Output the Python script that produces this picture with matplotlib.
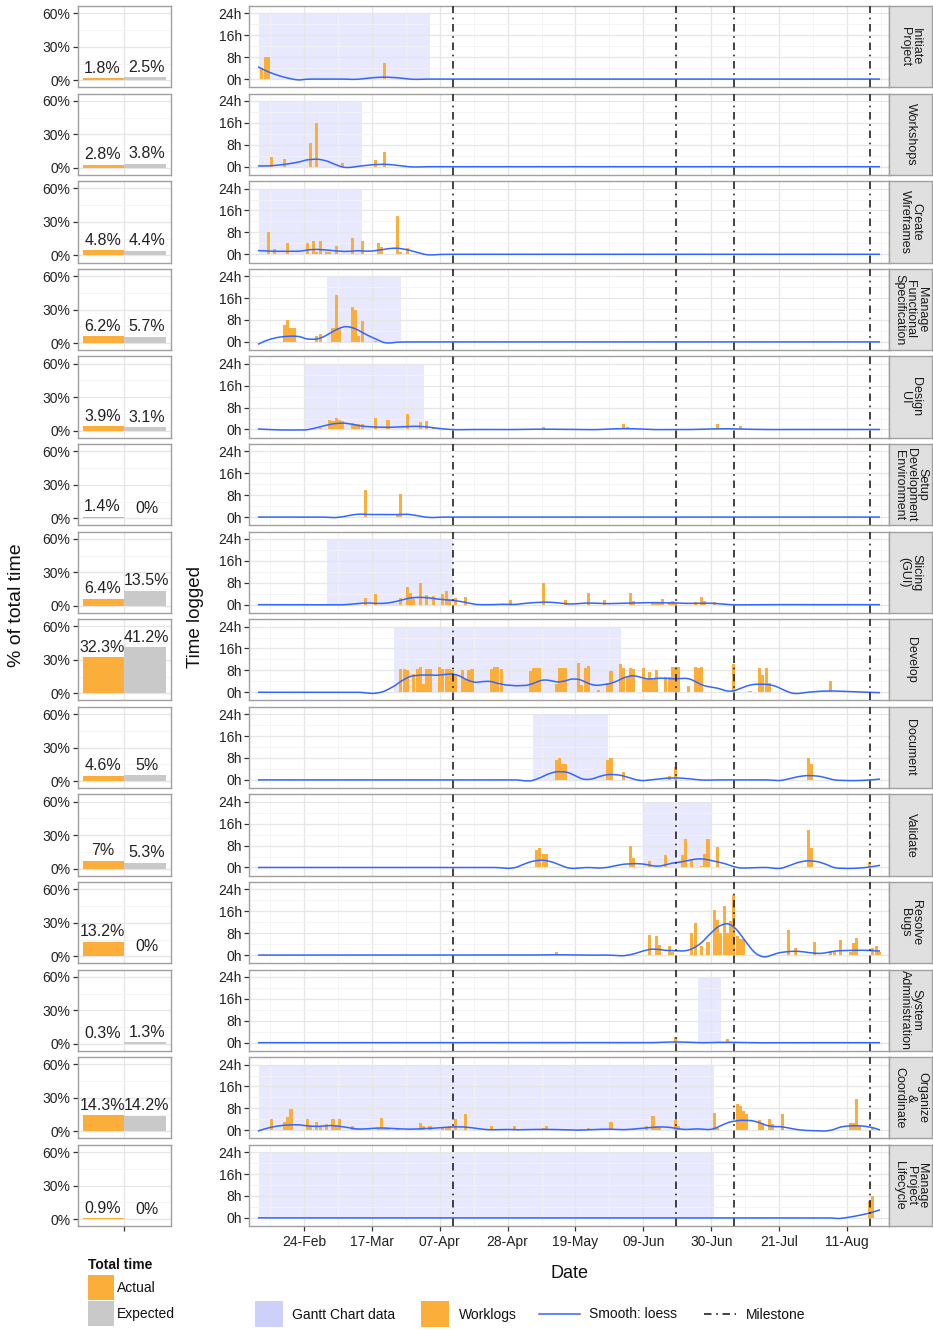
import numpy as np
import matplotlib
matplotlib.use("Agg")
import matplotlib.pyplot as plt
import matplotlib.dates as mdates
from matplotlib.patches import Rectangle
from matplotlib.lines import Line2D
from matplotlib.ticker import FixedLocator

plt.rcParams['font.family'] = ['Liberation Sans', 'DejaVu Sans']

# ---------------- data ----------------
START = np.datetime64('2014-02-10')
END_DAY = 192  # last day of the logged period (offset from START)

TASKS = ["Initiate\nProject", "Workshops", "Create\nWireframes",
         "Manage\nFunctional\nSpecification", "Design\nUI",
         "Setup\nDevelopment\nEnvironment", "Slicing\n(GUI)", "Develop",
         "Document", "Validate", "Resolve\nBugs", "System\nAdministration",
         "Organize\n&\nCoordinate", "Manage\nProject\nLifecycle"]

ACTUAL_PCT = [1.8, 2.8, 4.8, 6.2, 3.9, 1.4, 6.4, 32.3, 4.6, 7, 13.2, 0.3, 14.3, 0.9]
EXPECTED_PCT = [2.5, 3.8, 4.4, 5.7, 3.1, 0, 13.5, 41.2, 5, 5.3, 0, 1.3, 14.2, 0]

GANTT_START = ['2014-02-10', '2014-02-10', '2014-02-10', '2014-03-03', '2014-02-24', None,
               '2014-03-03', '2014-03-24', '2014-05-06', '2014-06-09', None, '2014-06-26',
               '2014-02-10', '2014-02-10']
GANTT_END = ['2014-04-04', '2014-03-14', '2014-03-14', '2014-03-26', '2014-04-02', None,
             '2014-04-11', '2014-06-02', '2014-05-29', '2014-06-30', None, '2014-07-03',
             '2014-07-01', '2014-07-01']

MILESTONES = ['2014-04-11', '2014-06-19', '2014-07-07', '2014-08-18']

DATE_TICKS = ['2014-02-24', '2014-03-17', '2014-04-07', '2014-04-28', '2014-05-19',
              '2014-06-09', '2014-06-30', '2014-07-21', '2014-08-11']

# worklogs: day offset from START, hours logged
initiate_days = [1, 2, 3, 39]
initiate_hours = [4, 8, 8, 6]
workshops_days = [4, 8, 16, 18, 26, 36, 39]
workshops_hours = [3.4, 2.8, 8.8, 15.8, 1.3, 2.4, 5.5]
wireframes_days = [3, 5, 9, 15, 17, 18, 19, 21, 22, 24, 29, 32, 37, 38, 43, 44, 46]
wireframes_hours = [8, 2, 4, 4, 5, 1, 5, 1, 1, 3, 6, 5, 4, 2.5, 14, 1, 2.4]
funcspec_days = [8, 9, 10, 11, 18, 19, 23, 24, 25, 29, 30, 31, 32, 36]
funcspec_hours = [6, 8, 5, 5, 2, 2.8, 5, 17, 5, 12.6, 11.6, 2, 7.6, 0.5]
designui_days = [19, 22, 23, 24, 25, 26, 29, 30, 31, 32, 36, 40, 43, 46, 50, 52, 54,
                 88, 113, 114, 142, 149]
designui_hours = [0.7, 3.6, 3.0, 4.2, 3.6, 3.2, 2.4, 2, 2, 2, 4.1, 3.6, 0.3, 5.7, 2.7,
                  3.2, 1, 1, 1.9, 0.8, 1.9, 1.1]
setup_days = [33, 43, 44]
setup_hours = [10, 1.2, 8.5]
slicing_days = [33, 36, 44, 46, 47, 48, 50, 52, 54, 57, 58, 59, 61, 64, 78, 88, 95, 102,
                107, 115, 116, 122, 123, 124, 125, 127, 128, 129, 135, 137, 138, 141, 158]
slicing_hours = [2.4, 3.9, 2.4, 6.3, 4.1, 2, 7.9, 3.6, 3, 3.9, 5, 2, 2.5, 2.7, 1.8, 7.9,
                 1.8, 4.1, 1.8, 4.1, 1.5, 1, 1, 1, 2, 1, 1.2, 1, 0.8, 2.7, 1.3, 1, 0.3]
develop_days = [44, 45, 46, 48, 49, 50, 51, 52, 53, 56, 57, 58, 59, 60, 61, 63, 64, 65, 66,
                72, 73, 74, 75, 84, 85, 86, 87, 92, 93, 94, 95, 99, 100, 101, 102, 105,
                108, 109, 112, 113, 114, 115, 116, 119, 120, 121, 122, 123, 126, 127, 128,
                129, 130, 133, 135, 136, 137, 147, 152, 155, 156, 157, 158, 177]
develop_hours = [8.6, 8.4, 8.2, 6.8, 8.6, 9.1, 3, 8.6, 8.4, 9.1, 8.6, 8.6, 8.4, 8.0, 6.8,
                 8.2, 4.8, 8.0, 8.4, 8.6, 9.1, 9.1, 8.6, 7.8, 9, 9, 9, 3.1, 8.7, 8.7, 8.8,
                 10.8, 2.7, 8.7, 9.7, 0.7, 3.3, 7.8, 10.2, 8.7, 5.7, 8.7, 8.5, 8.7, 5.1,
                 7.5, 5.1, 8.1, 5.7, 5.7, 9.1, 9.1, 9.1, 2.4, 9.1, 8.8, 9.1, 10.5, 0.5,
                 8.7, 6.3, 8.7, 3.3, 4.1]
document_days = [92, 93, 94, 95, 108, 109, 113, 127, 129, 170, 171]
document_hours = [7.3, 8, 5.7, 5.7, 7.3, 8, 2.7, 1.3, 4.8, 7.9, 5.7]
validate_days = [86, 87, 88, 89, 115, 116, 121, 126, 131, 132, 134, 137, 138, 139, 142,
                 170, 171, 189]
validate_hours = [6.4, 7.3, 4.8, 4.8, 8, 3.6, 2.4, 4.5, 4.5, 10.3, 2.8, 0.4, 5, 10.5,
                  7.5, 13.7, 7.3, 1.9]
bugs_days = [92, 121, 123, 124, 127, 128, 134, 135, 137, 139, 141, 142, 143, 144, 145,
             146, 147, 148, 149, 150, 164, 166, 172, 177, 178, 180, 183, 184, 185, 190,
             191, 192]
bugs_hours = [1, 7.3, 7, 3.7, 3.3, 1.2, 8, 11.7, 3.5, 4.6, 16.3, 12.7, 8, 17.9, 8, 12.6,
              21.9, 7, 5.9, 5.9, 9, 2.5, 4.9, 1.6, 1.6, 5.5, 1.2, 4.3, 6.2, 2.5, 3.3, 1.2]
sysadmin_days = [129, 145]
sysadmin_hours = [2.2, 1.2]
organize_days = [4, 8, 9, 10, 15, 16, 18, 19, 21, 23, 24, 25, 29, 30, 31, 37, 38, 39, 40,
                 43, 50, 51, 53, 57, 58, 59, 61, 64, 72, 74, 79, 86, 88, 89, 95, 100, 102,
                 109, 113, 116, 120, 122, 123, 124, 129, 130, 134, 141, 142, 148, 149, 150,
                 151, 155, 156, 158, 159, 162, 183, 184, 185, 186, 190]
organize_hours = [4, 3, 5, 7.9, 4, 1.5, 3, 1.5, 2.3, 4, 1.8, 4, 1.7, 0.6, 0.6, 0.9, 4.6,
                  0.9, 0.9, 1, 2.8, 1.7, 1.7, 0.9, 0.9, 1.7, 4, 5.8, 1.7, 0.6, 1.7, 0.4, 1,
                  1.6, 0.5, 0.5, 0.7, 3.2, 0.5, 0.5, 1.4, 5.3, 1.4, 1.2, 3.7, 1.4, 0.6, 6.3,
                  1, 9.6, 8.8, 7.2, 5.9, 3.8, 2.8, 4.1, 2.2, 5.9, 2.5, 2.5, 11.5, 1.6, 1.2]
lifecycle_days = [189, 190]
lifecycle_hours = [6, 8]

WORKLOG_DAYS = [initiate_days, workshops_days, wireframes_days, funcspec_days,
                designui_days, setup_days, slicing_days, develop_days, document_days,
                validate_days, bugs_days, sysadmin_days, organize_days, lifecycle_days]
WORKLOG_HOURS = [initiate_hours, workshops_hours, wireframes_hours, funcspec_hours,
                 designui_hours, setup_hours, slicing_hours, develop_hours, document_hours,
                 validate_hours, bugs_hours, sysadmin_hours, organize_hours, lifecycle_hours]

# ---------------- styling ----------------
ORANGE = '#fcae3a'
GREY_BAR = '#c9c9c9'
GANTT_COL = (0.0, 0.0, 1.0, 0.09)
LINE_BLUE = '#3366ff'
BORDER = '#a0a0a0'
GRID_MAJ = '#e6e6e6'
GRID_MIN = '#f3f3f3'
TXT = '#222222'
MS_DASH = (0, (4.5, 2.8, 1.0, 2.8))
SPAN = 0.15


def loess(x, y, xe, span):
    x = np.asarray(x, float)
    y = np.asarray(y, float)
    q = int(np.floor(span * len(x)))
    out = np.empty(len(xe))
    for i, x0 in enumerate(xe):
        d = np.abs(x - x0)
        h = np.sort(d)[q - 1] * 1.0001
        w = np.clip(1 - (d / h) ** 3, 0, None) ** 3
        X = np.vstack([np.ones_like(x), x - x0, (x - x0) ** 2]).T
        sw = np.sqrt(w)
        beta = np.linalg.lstsq(X * sw[:, None], y * sw, rcond=None)[0]
        out[i] = beta[0]
    return out


def dnum(s):
    return mdates.date2num(np.datetime64(s))


start_num = mdates.date2num(START)
W, H = 933, 1330
fig = plt.figure(figsize=(W / 100, H / 100), dpi=100)


def px_axes(x0, y0, x1, y1):
    return fig.add_axes([x0 / W, 1 - y1 / H, (x1 - x0) / W, (y1 - y0) / H])


ROW_TOP0 = 6.0
ROW_PITCH = 87.6
ROW_H = 81.3
LX0, LX1 = 78, 170.5
RX0, RX1 = 249.3, 889
SX1 = 932

major_dates = [dnum(d) for d in DATE_TICKS]
minor_dates = [m - 10.5 for m in major_dates] + [major_dates[-1] + 10.5]
xlim_r = (start_num - 2.9, start_num + 195)
all_days = np.arange(0, END_DAY + 1)
grid_days = np.linspace(0, END_DAY, 240)

n = len(TASKS)
for i in range(n):
    top = ROW_TOP0 + i * ROW_PITCH
    bot = top + ROW_H
    last = (i == n - 1)

    # ----- left panel: share of total time -----
    axl = px_axes(LX0, top, LX1, bot)
    axl.set_xlim(-1.11, 1.11)
    axl.set_ylim(-6.3, 66.5)
    axl.yaxis.set_major_locator(FixedLocator([0, 30, 60]))
    axl.yaxis.set_minor_locator(FixedLocator([15, 45]))
    axl.xaxis.set_major_locator(FixedLocator([0]))
    axl.grid(True, which='major', color=GRID_MAJ, lw=0.9)
    axl.grid(True, which='minor', axis='y', color=GRID_MIN, lw=0.6)
    axl.set_axisbelow(True)
    axl.bar([-1], [ACTUAL_PCT[i]], width=1.0, align='edge', color=ORANGE, lw=0)
    axl.bar([0], [EXPECTED_PCT[i]], width=1.0, align='edge', color=GREY_BAR, lw=0)
    axl.text(-0.52, ACTUAL_PCT[i] + 2.2, f"{ACTUAL_PCT[i]:g}%", ha='center', va='bottom',
             fontsize=11.5, color=TXT)
    axl.text(0.54, EXPECTED_PCT[i] + 2.2, f"{EXPECTED_PCT[i]:g}%", ha='center', va='bottom',
             fontsize=11.5, color=TXT)
    axl.set_yticklabels(['0%', '30%', '60%'])
    axl.tick_params(axis='y', which='major', length=3.5, width=0.9, color='#333333',
                    labelsize=10, labelcolor=TXT, pad=2)
    axl.tick_params(axis='y', which='minor', length=0)
    if last:
        axl.tick_params(axis='x', length=3.5, width=0.9, color='#333333', labelbottom=False)
    else:
        axl.tick_params(axis='x', length=0, labelbottom=False)
    for sp in axl.spines.values():
        sp.set_color(BORDER)
        sp.set_linewidth(1.0)

    # ----- right panel: time logged -----
    axr = px_axes(RX0, top, RX1, bot)
    axr.set_xlim(*xlim_r)
    axr.set_ylim(-3.0, 26.7)
    axr.xaxis.set_major_locator(FixedLocator(major_dates))
    axr.xaxis.set_minor_locator(FixedLocator(minor_dates))
    axr.yaxis.set_major_locator(FixedLocator([0, 8, 16, 24]))
    axr.yaxis.set_minor_locator(FixedLocator([4, 12, 20]))
    axr.grid(True, which='major', color=GRID_MAJ, lw=0.9)
    axr.grid(True, which='minor', color=GRID_MIN, lw=0.6)
    axr.set_axisbelow(True)

    if GANTT_START[i] is not None:
        g0 = dnum(GANTT_START[i])
        g1 = dnum(GANTT_END[i])
        axr.add_patch(Rectangle((g0, 0), g1 - g0, 24, facecolor=GANTT_COL, lw=0, zorder=0.5))

    days = np.array(WORKLOG_DAYS[i])
    hrs = np.array(WORKLOG_HOURS[i], float)
    axr.bar(start_num + days, hrs, width=0.95, color=ORANGE, lw=0, zorder=2)

    daily = np.zeros(len(all_days))
    for d, h in zip(days, hrs):
        daily[d] += h
    sm = loess(all_days, daily, grid_days, SPAN)
    axr.plot(start_num + grid_days, sm, color=LINE_BLUE, lw=1.1, zorder=3)

    for m in MILESTONES:
        axr.axvline(dnum(m), color='#222222', lw=1.2, linestyle=MS_DASH, zorder=4)

    axr.set_yticklabels(['0h', '8h', '16h', '24h'])
    axr.tick_params(axis='y', which='major', length=3.5, width=0.9, color='#333333',
                    labelsize=10, labelcolor=TXT, pad=2)
    axr.tick_params(axis='y', which='minor', length=0)
    axr.tick_params(axis='x', which='minor', length=0)
    if last:
        axr.xaxis.set_major_formatter(mdates.DateFormatter('%d-%b'))
        axr.tick_params(axis='x', which='major', length=3.5, width=0.9, color='#333333',
                        labelsize=10, labelcolor=TXT, pad=3)
    else:
        axr.tick_params(axis='x', which='major', length=0, labelbottom=False)
    for sp in axr.spines.values():
        sp.set_color(BORDER)
        sp.set_linewidth(1.0)

    # ----- strip -----
    axs = px_axes(RX1, top, SX1, bot)
    axs.set_facecolor('#e0e0e0')
    axs.set_xticks([])
    axs.set_yticks([])
    for sp in axs.spines.values():
        sp.set_color(BORDER)
        sp.set_linewidth(1.0)
    axs.text(0.5, 0.5, TASKS[i], rotation=-90, ha='center', va='center',
             multialignment='center', fontsize=9, color='#1a1a1a',
             transform=axs.transAxes, linespacing=0.95)

# ---------------- titles & legends ----------------
ov = fig.add_axes([0, 0, 1, 1])
ov.set_xlim(0, W)
ov.set_ylim(H, 0)
ov.axis('off')
ov.patch.set_alpha(0)

ov.text(17, 605, '% of total time', rotation=90, ha='center', va='center',
        fontsize=14, color='#111111')
ov.text(195, 617, 'Time logged', rotation=90, ha='center', va='center',
        fontsize=13.5, color='#111111')
ov.text(569, 1273, 'Date', ha='center', va='center', fontsize=13, color='#111111')

ov.text(88, 1265, 'Total time', ha='left', va='center', fontsize=10,
        fontweight='bold', color='#111111')
ov.add_patch(Rectangle((88, 1275), 26, 25, facecolor=ORANGE, lw=0))
ov.add_patch(Rectangle((88, 1301), 26, 25, facecolor=GREY_BAR, lw=0))
ov.text(117, 1288, 'Actual', ha='left', va='center', fontsize=10, color='#111111')
ov.text(117, 1314, 'Expected', ha='left', va='center', fontsize=10, color='#111111')

ov.add_patch(Rectangle((255, 1301), 28, 26, facecolor='#cdd1fa', lw=0))
ov.text(292, 1315, 'Gantt Chart data', ha='left', va='center', fontsize=10, color='#111111')
ov.add_patch(Rectangle((421, 1301), 28, 26, facecolor=ORANGE, lw=0))
ov.text(459, 1315, 'Worklogs', ha='left', va='center', fontsize=10, color='#111111')
ov.add_line(Line2D([539, 580], [1314, 1314], color=LINE_BLUE, lw=1.1))
ov.text(589, 1314, 'Smooth: loess', ha='left', va='center', fontsize=10, color='#111111')
ov.add_line(Line2D([704, 736], [1314, 1314], color='#222222', lw=1.2, linestyle=MS_DASH))
ov.text(746, 1315, 'Milestone', ha='left', va='center', fontsize=10, color='#111111')

fig.savefig('out.png', dpi=100)
